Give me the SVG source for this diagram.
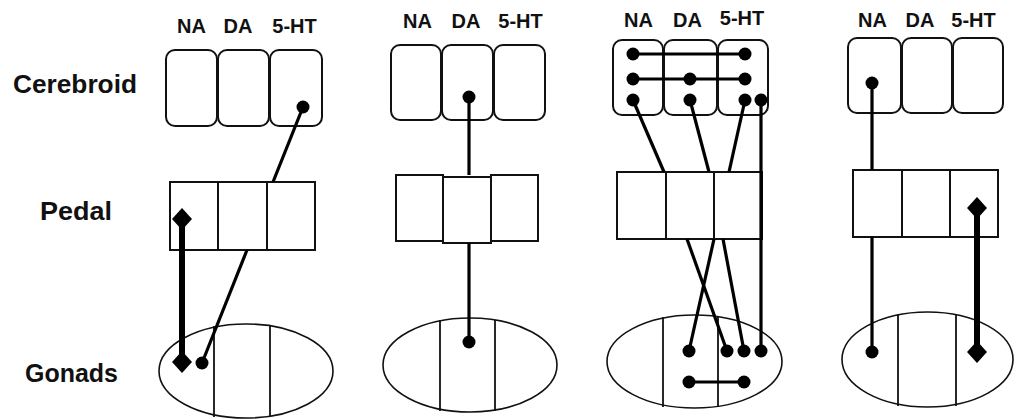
<svg xmlns="http://www.w3.org/2000/svg" width="1020" height="419" viewBox="0 0 1020 419">
<style>
.bg{fill:#fff}
.box{fill:#fff;stroke:#111;stroke-width:2}
.ell{fill:#fff;stroke:#111;stroke-width:1.6}
.div{stroke:#111;stroke-width:1.8}
.conn{stroke:#000;stroke-width:3.2;fill:none}
.thick{stroke:#000;stroke-width:6;fill:none}
.dot{fill:#000}
.row{font-family:"Liberation Sans",Arial,sans-serif;font-weight:bold;font-size:25px;fill:#111}
.hdr{font-family:"Liberation Sans",Arial,sans-serif;font-weight:bold;font-size:20px;fill:#111;text-anchor:middle}
</style>
<defs>
<path id="dia" d="M0,-11 L10,0 L0,11 L-10,0 Z" fill="#000"/>
</defs>
<rect class="bg" x="0" y="0" width="1020" height="419"/>

<g id="row-labels">
<text class="row" x="13" y="93" textLength="124" lengthAdjust="spacingAndGlyphs">Cerebroid</text>
<text class="row" x="40" y="220" textLength="72" lengthAdjust="spacingAndGlyphs">Pedal</text>
<text class="row" x="25" y="382" textLength="93" lengthAdjust="spacingAndGlyphs">Gonads</text>
</g>

<!-- Panel 1 -->
<g id="panel1-headers">
<text class="hdr" x="191.5" y="33">NA</text>
<text class="hdr" x="238" y="33">DA</text>
<text class="hdr" x="294.5" y="33">5-HT</text>
</g>
<g id="p1-cerebroid">
<rect class="box" x="166" y="50" width="51" height="76" rx="9"/>
<rect class="box" x="218" y="50" width="51" height="76" rx="9"/>
<rect class="box" x="270" y="50" width="52" height="76" rx="9"/>
</g>
<g id="p1-pedal">
<rect class="box" x="170" y="182" width="48" height="68"/>
<rect class="box" x="218" y="182" width="49" height="68"/>
<rect class="box" x="267" y="182" width="48" height="68"/>
</g>
<g id="p1-gonads">
<ellipse class="ell" cx="246" cy="371" rx="87" ry="47"/>
<line class="div" x1="214" y1="326" x2="214" y2="417"/>
<line class="div" x1="270" y1="326" x2="270" y2="417"/>
</g>

<!-- Panel 2 -->
<g id="panel2-headers">
<text class="hdr" x="417.5" y="28">NA</text>
<text class="hdr" x="466" y="28">DA</text>
<text class="hdr" x="520.5" y="28">5-HT</text>
</g>
<g id="p2-cerebroid">
<rect class="box" x="391" y="45" width="50" height="75" rx="9"/>
<rect class="box" x="442" y="45" width="51" height="75" rx="9"/>
<rect class="box" x="494" y="45" width="51" height="75" rx="9"/>
</g>
<g id="p2-pedal">
<rect class="box" x="396" y="175" width="47" height="66"/>
<rect class="box" x="491" y="175" width="47" height="66"/>
<rect class="box" x="443" y="177" width="48" height="66"/>
</g>
<g id="p2-gonads">
<ellipse class="ell" cx="470" cy="365" rx="87" ry="47"/>
<line class="div" x1="440" y1="320" x2="440" y2="411"/>
<line class="div" x1="495" y1="320" x2="495" y2="411"/>
</g>

<!-- Panel 3 -->
<g id="panel3-headers">
<text class="hdr" x="638.5" y="27">NA</text>
<text class="hdr" x="687.5" y="27">DA</text>
<text class="hdr" x="742" y="25">5-HT</text>
</g>
<g id="p3-cerebroid">
<rect class="box" x="613" y="40" width="50" height="75" rx="9"/>
<rect class="box" x="664" y="40" width="53" height="75" rx="9"/>
<rect class="box" x="718" y="40" width="50" height="75" rx="9"/>
</g>
<g id="p3-pedal">
<rect class="box" x="617" y="172" width="49" height="67"/>
<rect class="box" x="666" y="172" width="48" height="67"/>
<rect class="box" x="714" y="172" width="48" height="67"/>
</g>
<g id="p3-gonads">
<ellipse class="ell" cx="694.5" cy="361.5" rx="87.5" ry="46.5"/>
<line class="div" x1="663" y1="317" x2="663" y2="407"/>
<line class="div" x1="718" y1="317" x2="718" y2="407"/>
</g>

<!-- Panel 4 -->
<g id="panel4-headers">
<text class="hdr" x="872.5" y="27">NA</text>
<text class="hdr" x="920" y="27">DA</text>
<text class="hdr" x="973.5" y="27">5-HT</text>
</g>
<g id="p4-cerebroid">
<rect class="box" x="848" y="38" width="53" height="75" rx="9"/>
<rect class="box" x="902" y="38" width="50" height="75" rx="9"/>
<rect class="box" x="953" y="38" width="50" height="75" rx="9"/>
</g>
<g id="p4-pedal">
<rect class="box" x="853" y="170" width="49" height="67"/>
<rect class="box" x="902" y="170" width="48" height="67"/>
<rect class="box" x="950" y="170" width="48" height="67"/>
</g>
<g id="p4-gonads">
<ellipse class="ell" cx="927.5" cy="359.5" rx="85.5" ry="47.5"/>
<line class="div" x1="898" y1="314" x2="898" y2="406"/>
<line class="div" x1="956" y1="314" x2="956" y2="406"/>
</g>

<g id="connectors">
<!-- panel 1 -->
<line class="conn" x1="303" y1="107" x2="273" y2="182"/>
<circle class="dot" cx="303" cy="107" r="6.5"/>
<line class="conn" x1="247" y1="250" x2="202" y2="363"/>
<circle class="dot" cx="202" cy="363" r="6.5"/>
<line class="thick" x1="182" y1="219" x2="182" y2="362"/>
<use href="#dia" x="182" y="219"/>
<use href="#dia" x="182" y="362"/>

<!-- panel 2 -->
<line class="conn" x1="469" y1="97" x2="469" y2="175"/>
<line class="conn" x1="469" y1="243" x2="469" y2="342"/>
<circle class="dot" cx="469" cy="97" r="6.5"/>
<circle class="dot" cx="469" cy="342" r="6.5"/>

<!-- panel 3 -->
<line class="conn" x1="633" y1="54" x2="745" y2="54"/>
<line class="conn" x1="633" y1="79" x2="745" y2="79"/>
<line class="conn" x1="633" y1="100" x2="664" y2="172"/>
<line class="conn" x1="690" y1="100" x2="709" y2="172"/>
<line class="conn" x1="745" y1="100" x2="729" y2="172"/>
<line class="conn" x1="761" y1="100" x2="761" y2="351"/>
<line class="conn" x1="687" y1="239" x2="727" y2="351"/>
<line class="conn" x1="714" y1="239" x2="689" y2="351"/>
<line class="conn" x1="723" y1="239" x2="744" y2="351"/>
<line class="conn" x1="689" y1="382" x2="744" y2="382"/>
<circle class="dot" cx="633" cy="54" r="6.5"/>
<circle class="dot" cx="745" cy="54" r="6.5"/>
<circle class="dot" cx="633" cy="79" r="6.5"/>
<circle class="dot" cx="690" cy="79" r="6.5"/>
<circle class="dot" cx="745" cy="79" r="6.5"/>
<circle class="dot" cx="633" cy="100" r="6.5"/>
<circle class="dot" cx="690" cy="100" r="6.5"/>
<circle class="dot" cx="745" cy="100" r="6.5"/>
<circle class="dot" cx="761" cy="100" r="6.5"/>
<circle class="dot" cx="689" cy="351" r="6.5"/>
<circle class="dot" cx="727" cy="351" r="6.5"/>
<circle class="dot" cx="744" cy="351" r="6.5"/>
<circle class="dot" cx="761" cy="351" r="6.5"/>
<circle class="dot" cx="689" cy="382" r="6.5"/>
<circle class="dot" cx="744" cy="382" r="6.5"/>

<!-- panel 4 -->
<line class="conn" x1="872" y1="83" x2="872" y2="170"/>
<line class="conn" x1="872" y1="237" x2="872" y2="352"/>
<circle class="dot" cx="872" cy="83" r="6.5"/>
<circle class="dot" cx="872" cy="352" r="6.5"/>
<line class="thick" x1="977" y1="208" x2="977" y2="352"/>
<use href="#dia" x="977" y="208"/>
<use href="#dia" x="977" y="352"/>
</g>
</svg>
